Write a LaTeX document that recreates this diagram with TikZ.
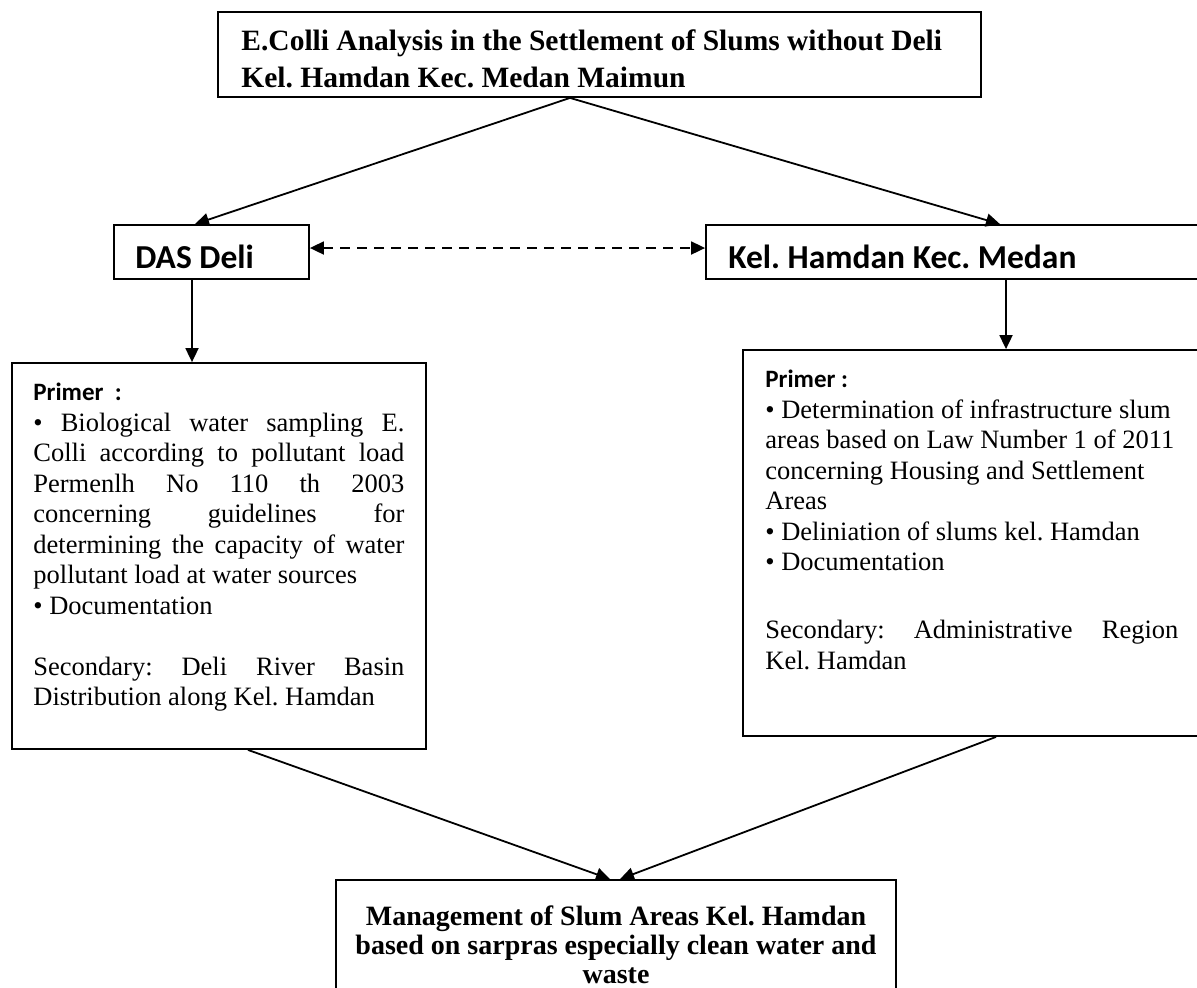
\documentclass[tikz,border=0pt]{standalone}
\usepackage{fontspec}
\setmainfont{Liberation Serif}
\newfontfamily\calibrifont{Carlito}
\usetikzlibrary{arrows.meta}
\frenchspacing

% justified line of a given width
\newcommand{\jline}[2]{\makebox[#1][s]{#2}}

\begin{document}
\begin{tikzpicture}[x=0.5pt, y=-0.5pt,
  box/.style={draw, line width=0.9pt, inner sep=0pt},
  arrow/.style={line width=0.9pt, -{Triangle[length=7pt, width=6.5pt]}},
  dasharrow/.style={line width=0.9pt, dash pattern=on 5pt off 3.5pt,
    {Triangle[length=7pt, width=6.5pt]}-{Triangle[length=7pt, width=6.5pt]}},
  titletext/.style={font=\bfseries\fontsize{14.75pt}{18.5pt}\selectfont, align=left, inner sep=0pt},
  headtext/.style={font=\calibrifont\bfseries\fontsize{16.75pt}{20pt}\selectfont, inner sep=0pt},
  bodytext/.style={font=\fontsize{13.25pt}{15.25pt}\selectfont, align=left, inner sep=0pt},
  resulttext/.style={font=\bfseries\fontsize{14pt}{14.5pt}\selectfont, align=center, inner sep=0pt}]
\useasboundingbox (0,0) rectangle (1197,987);

% Title box
\node[box, minimum width=381.5pt, minimum height=42.5pt] (top) at (599.5,54.5) {};
\node[titletext, anchor=north west] (toptext) at (241,29)
  {E.Colli Analysis in the Settlement of Slums without Deli\\Kel. Hamdan Kec. Medan Maimun};

% The two study areas
\node[box, minimum width=97.5pt, minimum height=27pt] (dasdeli) at (211.5,252) {};
\node[headtext, anchor=base west] (dastext) at (135,268) {DAS Deli};
\node[box, minimum width=252pt, minimum height=27pt] (kel) at (958,252) {};
\node[headtext, anchor=base west] (keltext) at (728,268) {Kel. Hamdan Kec. Medan};

% Data boxes
\node[box, minimum width=207pt, minimum height=193pt] (leftbox) at (219,556) {};
\node[bodytext, anchor=north west] (lefttext) at (33,383) {%
  {\calibrifont\bfseries\fontsize{12.5pt}{15.25pt}\selectfont Primer\ \ :}\\
  \jline{185.5pt}{• Biological water sampling E.}\\
  \jline{185.5pt}{Colli according to pollutant load}\\
  \jline{185.5pt}{Permenlh No 110 th 2003}\\
  \jline{185.5pt}{concerning guidelines for}\\
  \jline{185.5pt}{determining the capacity of water}\\
  pollutant load at water sources\\
  • Documentation\\[15.25pt]
  \jline{185.5pt}{Secondary: Deli River Basin}\\
  Distribution along Kel. Hamdan};

\node[box, minimum width=233.5pt, minimum height=193pt] (rightbox) at (976.5,543) {};
\node[bodytext, anchor=north west] (righttext) at (765,370) {%
  {\calibrifont\bfseries\fontsize{12.5pt}{15.25pt}\selectfont Primer :}\\
  • Determination of infrastructure slum\\
  areas based on Law Number 1 of 2011\\
  concerning Housing and Settlement\\
  Areas\\
  • Deliniation of slums kel. Hamdan\\
  • Documentation\\[18.75pt]
  \jline{206.5pt}{Secondary: Administrative Region}\\
  Kel. Hamdan};

% Result box
\node[box, minimum width=280pt, minimum height=60pt] (result) at (616,940) {};
\node[resulttext, anchor=north] (resulttxt) at (616,905)
  {Management of Slum Areas Kel. Hamdan\\based on sarpras especially clean water and\\waste};

% Connectors
\draw[arrow] ([xshift=-14.75pt]top.south) -- ([xshift=-8.25pt]dasdeli.north);
\draw[arrow] ([xshift=-14.75pt]top.south) -- ([xshift=21pt]kel.north);
\draw[dasharrow] ([yshift=2pt]dasdeli.east) -- ([yshift=2pt]kel.west);
\draw[arrow] ([xshift=-9.75pt]dasdeli.south) -- ([xshift=-9.75pt]dasdeli.south |- leftbox.north);
\draw[arrow] ([xshift=24pt]kel.south) -- ([xshift=24pt]kel.south |- rightbox.north);
\draw[arrow] ([xshift=14.5pt]leftbox.south) -- ([xshift=-3pt]result.north);
\draw[arrow] ([xshift=9.75pt]rightbox.south) -- ([xshift=2pt]result.north);
\end{tikzpicture}
\end{document}
